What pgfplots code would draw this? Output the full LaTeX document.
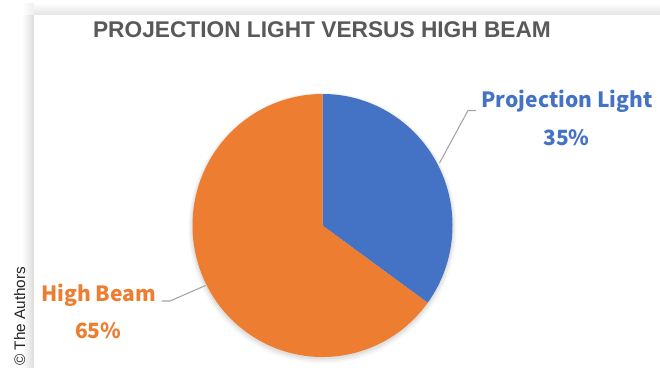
\documentclass[border=0pt]{standalone}
\usepackage{pgfplots}
\pgfplotsset{compat=1.18}
\usepackage{pgfplotstable}
\usepackage{fontspec}
\setmainfont{Liberation Sans}
\newfontfamily\labelfont{Noto Sans CJK JP}

\definecolor{plblue}{HTML}{4472C4}
\definecolor{hborange}{HTML}{ED7D31}
\definecolor{titlegray}{HTML}{595959}
\definecolor{leadergray}{HTML}{A6A6A6}

% share of each lighting mode, in percent
\pgfplotstableread{
label value
Projection 35
High 65
}\sharetable

\begin{document}
\begin{tikzpicture}
\pgfplotstablegetelem{0}{value}\of\sharetable \edef\shareA{\pgfplotsretval}
\pgfplotstablegetelem{1}{value}\of\sharetable \edef\shareB{\pgfplotsretval}
\pgfmathsetmacro\angA{3.6*\shareA}
\pgfmathsetmacro\splitang{90-\angA}
\begin{axis}[
  width=660pt, height=367pt, scale only axis,
  xmin=0, xmax=660, ymin=0, ymax=367, y dir=reverse,
  hide axis, clip=false,
]
% page and card edge shadow
\fill[white] (axis cs:0,0) rectangle (axis cs:660,367);
\shade[left color=white, right color=black!13] (axis cs:22,14) rectangle (axis cs:33.5,367);
\shade[top color=white, bottom color=black!10] (axis cs:33.5,3) rectangle (axis cs:660,14);
\shade[left color=white, right color=black!6] (axis cs:22,3) rectangle (axis cs:33.5,14);

\coordinate (C) at (axis cs:322.5,225.5);
% soft shadow under the pie
\fill[black, opacity=0.03] (axis cs:322.5,228) ellipse [x radius=134pt, y radius=135.5pt];
\fill[black, opacity=0.04] (axis cs:322.5,227.5) ellipse [x radius=132.5pt, y radius=134pt];
\fill[black, opacity=0.05] (axis cs:322.5,227) ellipse [x radius=131pt, y radius=132.5pt];

% slices
\fill[plblue] (C) -- +(90:130pt and 131.5pt) arc[start angle=90, end angle=\splitang, x radius=130pt, y radius=131.5pt] -- cycle;
\fill[hborange] (C) -- +(\splitang:130pt and 131.5pt) arc[start angle=\splitang, end angle=-270, x radius=130pt, y radius=131.5pt] -- cycle;

% leader lines
\draw[leadergray, line width=1.1pt] (axis cs:476,110.5) -- (axis cs:468,110.5) -- (axis cs:439.5,163);
\draw[leadergray, line width=1.1pt] (axis cs:161.5,301) -- (axis cs:170,301) -- (axis cs:205.5,285.5);

% title
\node[anchor=base, inner sep=0, text=titlegray, font=\bfseries\fontsize{22.7}{27}\selectfont]
  at (axis cs:322,37.7) {PROJECTION LIGHT VERSUS HIGH BEAM};

% data labels
\node[anchor=base, inner sep=0, text=plblue, font=\labelfont\bfseries\fontsize{21}{25}\selectfont]
  at (axis cs:567,107) {Projection Light};
\node[anchor=base, inner sep=0, text=plblue, font=\labelfont\bfseries\fontsize{21}{25}\selectfont]
  at (axis cs:566.5,145) {\shareA\%};
\node[anchor=base, inner sep=0, text=hborange, font=\labelfont\bfseries\fontsize{21}{25}\selectfont]
  at (axis cs:98.5,301.7) {High Beam};
\node[anchor=base, inner sep=0, text=hborange, font=\labelfont\bfseries\fontsize{21}{25}\selectfont]
  at (axis cs:98.3,338.3) {\shareB\%};

% credit line
\node[rotate=90, anchor=base west, inner sep=0, text=black!85, font=\fontsize{15.3}{18}\selectfont]
  at (axis cs:25,366) {© The Authors};
\end{axis}
\pgfresetboundingbox
\useasboundingbox (current axis.south west) rectangle (current axis.north east);
\end{tikzpicture}
\end{document}
